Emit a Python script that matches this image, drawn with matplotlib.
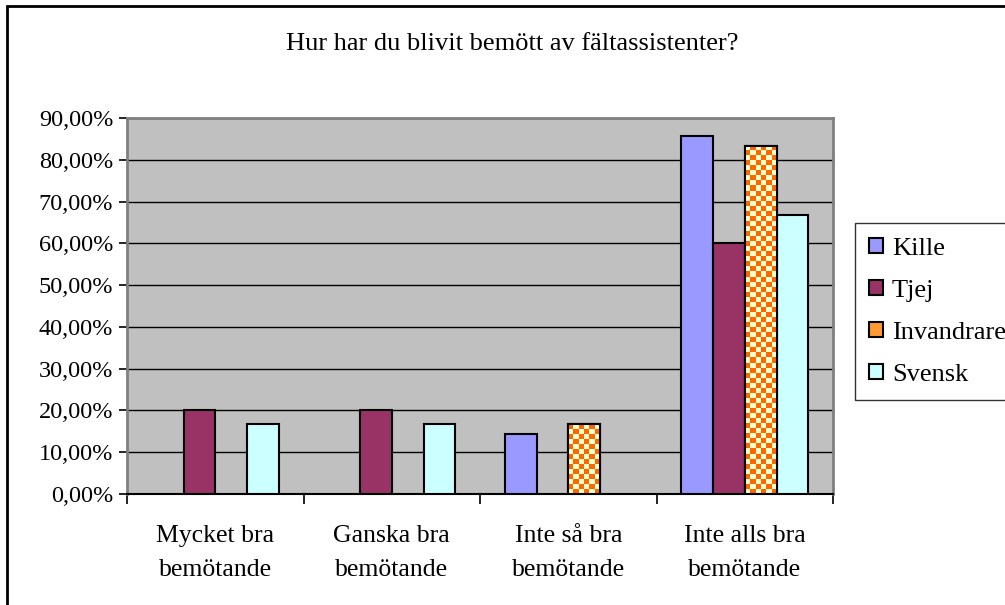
import numpy as np
import matplotlib
matplotlib.use("Agg")
import matplotlib.pyplot as plt
from matplotlib.patches import Rectangle
from matplotlib.colors import ListedColormap

# data (procent)
kategorier = ["Mycket bra\nbemötande", "Ganska bra\nbemötande",
              "Inte så bra\nbemötande", "Inte alls bra\nbemötande"]
serier = ["Kille", "Tjej", "Invandrare", "Svensk"]
kille = [0, 0, 14.29, 85.71]
tjej = [20.0, 20.0, 0, 60.0]
invandrare = [0, 0, 16.67, 83.33]
svensk = [16.67, 16.67, 0, 66.67]
yticks = [0, 10, 20, 30, 40, 50, 60, 70, 80, 90]

farger = ["#9999FF", "#993366", "#FF6600", "#CCFFFF"]

plt.rcParams["font.family"] = ["Liberation Serif", "DejaVu Serif"]

fig = plt.figure(figsize=(10.05, 6.05), dpi=100)
ax = fig.add_axes([0.1264, 0.1835, 0.7025, 0.6215])
ax.set_facecolor("#C0C0C0")

x = np.arange(len(kategorier))
w = 0.18
alla = [kille, tjej, invandrare, svensk]
behallare = []
for i, vals in enumerate(alla):
    h = [v if v > 0 else np.nan for v in vals]
    fc = "#FFFFCC" if serier[i] == "Invandrare" else farger[i]
    b = ax.bar(x + (i - 1.5) * w, h, w, facecolor=fc,
               edgecolor="black", linewidth=1.5, zorder=3)
    behallare.append(b)

# rutmönster för Invandrare
cmap = ListedColormap(["#FFFFCC", "#FF6600"])
for rect in behallare[2]:
    hh = rect.get_height()
    if not np.isfinite(hh) or hh <= 0:
        continue
    nr = max(1, int(round(hh / 1.2)))
    nc = 6
    mon = (np.add.outer(np.arange(nr), np.arange(nc)) % 2)
    x0 = rect.get_x()
    im = ax.imshow(mon, cmap=cmap, interpolation="nearest", aspect="auto",
                   extent=[x0, x0 + rect.get_width(), 0, hh], origin="lower",
                   zorder=3.5)
    im.set_clip_path(rect)
    ax.add_patch(Rectangle((x0, 0), rect.get_width(), hh, facecolor="none",
                           edgecolor="black", linewidth=1.5, zorder=4))

ax.set_xlim(-0.5, 3.5)
ax.set_ylim(0, 90)
ax.set_yticks(yticks)
ax.set_yticklabels([f"{v:.2f}%".replace(".", ",") for v in yticks], fontsize=17.5)
ax.yaxis.grid(True, color="black", linewidth=1)
ax.set_axisbelow(True)

ax.set_xticks(x)
ax.set_xticklabels(kategorier, fontsize=18.5, linespacing=1.75)
ax.set_xticks(np.arange(-0.5, 4, 1), minor=True)
ax.tick_params(axis="x", which="major", length=0, pad=22)
ax.tick_params(axis="x", which="minor", length=7, width=1.2, color="black")
ax.tick_params(axis="y", length=6, width=1.2, color="black", pad=4)

for s in ["top", "right", "left"]:
    ax.spines[s].set_color("#808080")
    ax.spines[s].set_linewidth(2)
ax.spines["bottom"].set_color("black")
ax.spines["bottom"].set_linewidth(1.5)

fig.text(0.51, 0.927, "Hur har du blivit bemött av fältassistenter?",
         ha="center", va="center", fontsize=19)

# legend
handtag = [Rectangle((0, 0), 1, 1, facecolor=farger[0], edgecolor="black", lw=1.5),
           Rectangle((0, 0), 1, 1, facecolor=farger[1], edgecolor="black", lw=1.5),
           Rectangle((0, 0), 1, 1, facecolor="#FF9933", edgecolor="black", lw=1.5),
           Rectangle((0, 0), 1, 1, facecolor=farger[3], edgecolor="black", lw=1.5)]
leg = fig.legend(handtag, serier, loc="upper left",
                 bbox_to_anchor=(0.8507, 0.6314), fontsize=19, frameon=True,
                 fancybox=False, edgecolor="black", handlelength=0.5,
                 handleheight=0.5, handletextpad=0.35, labelspacing=0.76,
                 borderpad=0.55, borderaxespad=0)
leg.get_frame().set_linewidth(1)

# ram runt hela diagrammet
fig.patches.append(Rectangle((0.007, -0.1), 1.1, 1.09, transform=fig.transFigure,
                             facecolor="none", edgecolor="black", linewidth=2))

fig.savefig("out.png", dpi=100)
